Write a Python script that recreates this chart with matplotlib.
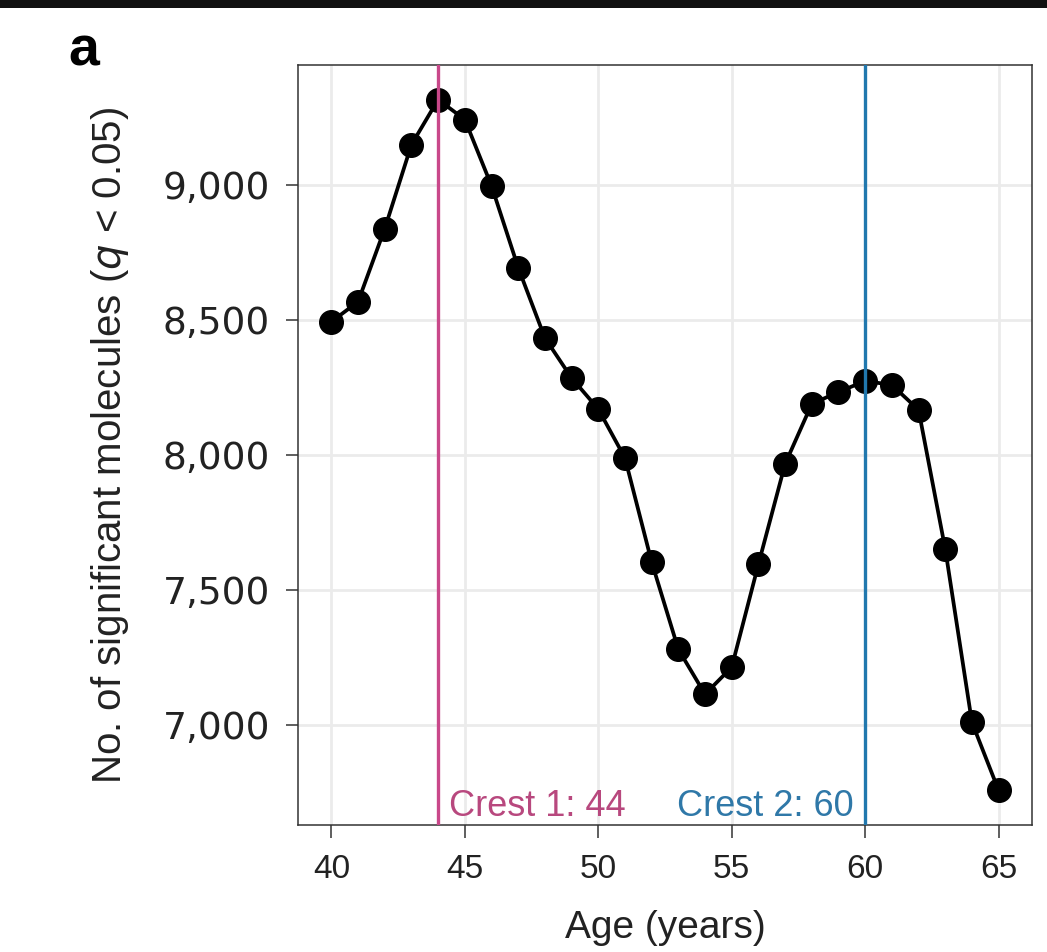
import matplotlib
matplotlib.use("Agg")
import matplotlib.pyplot as plt
import matplotlib.ticker as mticker
from matplotlib.patches import Rectangle

plt.rcParams["font.family"] = ["Liberation Sans", "DejaVu Sans"]

# data
ages = list(range(40, 66))
counts = [8493, 8567, 8837, 9148, 9315, 9241, 8996, 8693, 8433, 8285,
          8170, 7989, 7604, 7281, 7115, 7215, 7596, 7967, 8189, 8233,
          8274, 8259, 8167, 7652, 7011, 6759]
crest_ages = [44, 60]
crest_labels = ["Crest 1: 44", "Crest 2: 60"]
crest_colors = ["#C9488A", "#2178AE"]
crest_text_colors = ["#B8487E", "#2F78A8"]
x_ticks = [40, 45, 50, 55, 60, 65]
y_ticks = [7000, 7500, 8000, 8500, 9000]

fig = plt.figure(figsize=(10.47, 9.52), dpi=100)
ax = fig.add_axes([298 / 1047, 1 - 825 / 952, (1032 - 298) / 1047, (825 - 65) / 952])

# top black band
fig.patches.append(Rectangle((0, 1 - 8 / 952), 1, 8 / 952, transform=fig.transFigure,
                             facecolor="#111111", edgecolor="none"))

ax.plot(ages, counts, color="black", linewidth=2.7, marker="o", markersize=17,
        markerfacecolor="black", markeredgecolor="black", zorder=3)

trans = ax.get_xaxis_transform()
for i, (a, lab, c, tc) in enumerate(zip(crest_ages, crest_labels, crest_colors, crest_text_colors)):
    ax.axvline(a, color=c, linewidth=2.4, zorder=4)
    if i == 0:
        ax.annotate(lab, xy=(a, 0.012), xycoords=trans, xytext=(8, 0),
                    textcoords="offset points", ha="left", va="baseline",
                    color=tc, fontsize=26)
    else:
        ax.annotate(lab, xy=(a, 0.012), xycoords=trans, xytext=(-8, 0),
                    textcoords="offset points", ha="right", va="baseline",
                    color=tc, fontsize=26)

# ggplot-like 5% expansion
xr = max(ages) - min(ages)
yr = max(counts) - min(counts)
ax.set_xlim(min(ages) - 0.05 * xr, max(ages) + 0.05 * xr)
ax.set_ylim(min(counts) - 0.05 * yr, max(counts) + 0.05 * yr)

ax.set_xticks(x_ticks)
ax.set_yticks(y_ticks)
ax.yaxis.set_major_formatter(mticker.FuncFormatter(lambda v, p: f"{int(v):,}"))
ax.grid(True, color="#EBEBEB", linewidth=2)
ax.set_axisbelow(True)

for s in ax.spines.values():
    s.set_color("#333333")
    s.set_linewidth(1.1)
ax.tick_params(axis="both", direction="out", length=9, width=1.1, color="#333333")
ax.tick_params(axis="x", labelsize=24, pad=12, labelcolor="#222222")
ax.tick_params(axis="y", labelsize=27, pad=11, labelcolor="#222222")
for t in ax.get_yticklabels():
    t.set_fontfamily("DejaVu Sans")

ax.set_xlabel("Age (years)", fontsize=28, color="#222222")
ax.xaxis.set_label_coords(0.5, -0.112)
ax.set_ylabel("No. of significant molecules ($\\it{q}$ < 0.05)", fontsize=29,
              color="#222222")
ax.yaxis.set_label_coords(-0.228, 0.5)

fig.text(68 / 1047, 1 - 65 / 952, "a", fontsize=40, fontweight="bold",
         ha="left", va="baseline")

fig.savefig("out.png", dpi=100)
